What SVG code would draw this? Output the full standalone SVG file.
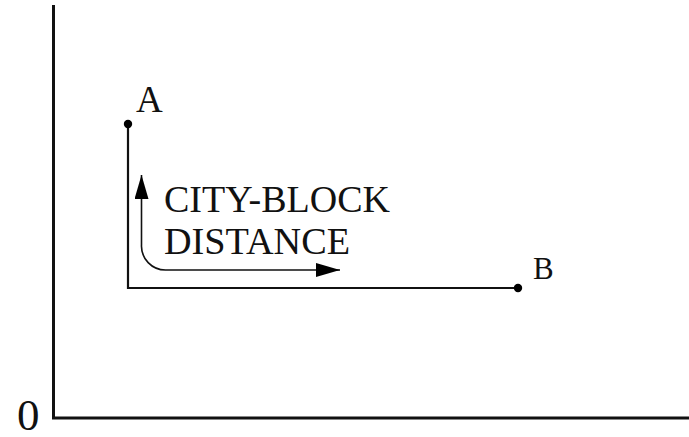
<svg xmlns="http://www.w3.org/2000/svg" width="689" height="437" viewBox="0 0 689 437">
  <defs>
    <marker id="head" viewBox="0 0 24 14" refX="24" refY="7" markerWidth="24" markerHeight="14" markerUnits="userSpaceOnUse" orient="auto">
      <path d="M0,0 L24,7 L0,14 Z" fill="#000"/>
    </marker>
    <style>
      .axis { fill: none; stroke: #111; stroke-width: 3; }
      .route { fill: none; stroke: #111; stroke-width: 2.2; }
      .guide { fill: none; stroke: #111; stroke-width: 1.6; }
      .lbl { font-family: 'Liberation Serif', 'Times New Roman', serif; fill: #111; }
    </style>
  </defs>

  <g id="axes">
    <path class="axis" d="M53.5,5 V418 H689"/>
    <text class="lbl" x="17" y="430" font-size="45" font-family="Liberation Serif, serif">0</text>
  </g>

  <g id="connectors">
    <!-- path from A down and across to B -->
    <path class="route" d="M128,124 V288 H518"/>
    <!-- curved double-headed arrow -->
    <path class="guide" d="M141.5,245 A24,24 0 0 0 165.5,270 H340" marker-end="url(#head)"/>
    <path class="guide" d="M141.5,245 V175" marker-end="url(#head)"/>
  </g>

  <g id="pointA">
    <circle cx="128" cy="124" r="4.2" fill="#000"/>
    <text class="lbl" x="136" y="112" font-size="37" font-family="Liberation Serif, serif">A</text>
  </g>

  <g id="pointB">
    <circle cx="518" cy="288" r="4.2" fill="#000"/>
    <text class="lbl" x="533" y="279" font-size="31" font-family="Liberation Serif, serif">B</text>
  </g>

  <g id="caption" font-family="Liberation Serif, serif">
    <text class="lbl" x="164" y="212" font-size="37" textLength="226" lengthAdjust="spacingAndGlyphs">CITY-BLOCK</text>
    <text class="lbl" x="164" y="254" font-size="37" textLength="186" lengthAdjust="spacingAndGlyphs">DISTANCE</text>
  </g>
</svg>
